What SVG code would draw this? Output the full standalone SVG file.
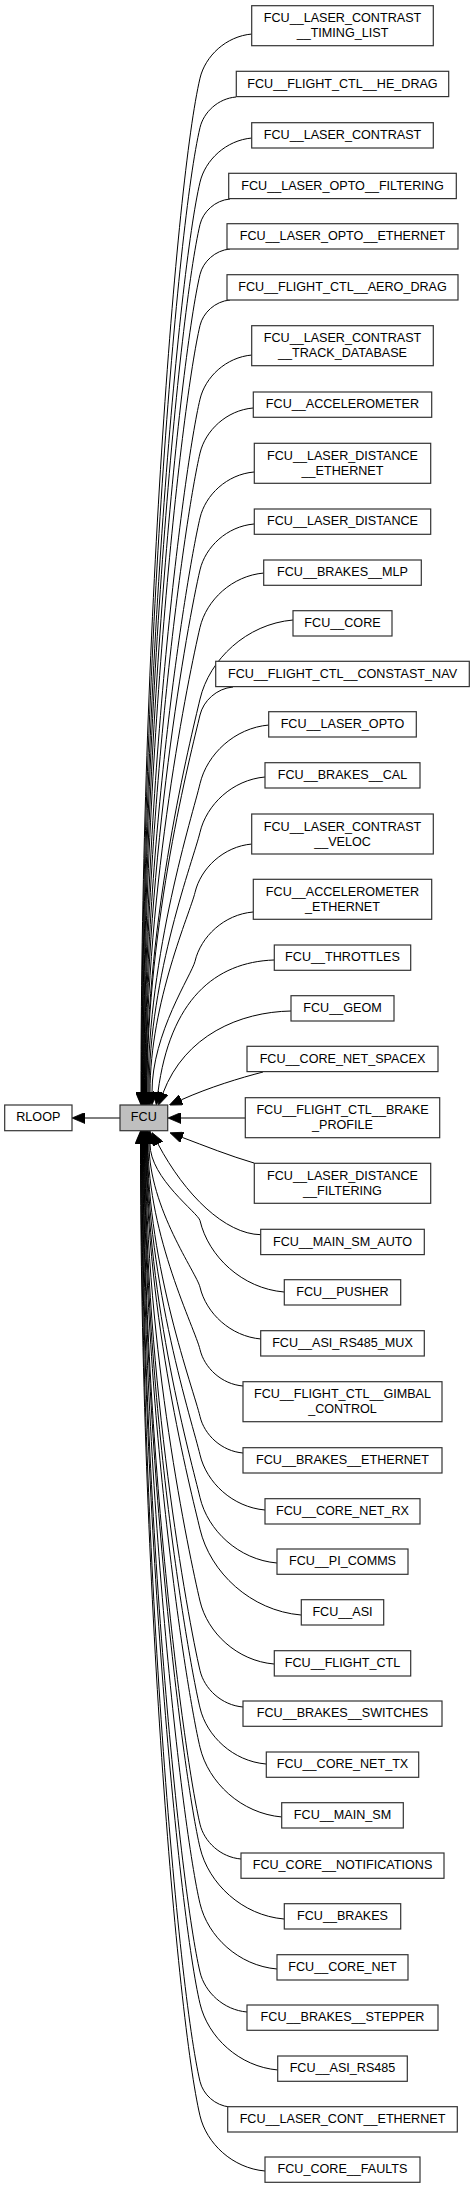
<svg xmlns="http://www.w3.org/2000/svg" width="475" height="2189" viewBox="0 0 475 2189">
<style>
.n rect{fill:#ffffff;stroke:#333333;stroke-width:1.2}
.f rect{fill:#bfbfbf;stroke:#333333;stroke-width:1.2}
text{font-family:"Liberation Sans",Arial,sans-serif;font-size:12.6px;text-anchor:middle;fill:#000}
.e path{fill:none;stroke:#000;stroke-width:1;marker-end:url(#ah)}
</style>
<defs>
<marker id="ah" markerWidth="13" markerHeight="11" refX="0" refY="5.5" orient="auto" markerUnits="userSpaceOnUse"><path d="M0,0 L13,5.5 L0,11 Z" fill="#000" stroke="#000" stroke-width="0.8"/></marker>
</defs>
<rect x="0" y="0" width="475" height="2189" fill="#ffffff"/>
<g id="edges" class="e">
<path d="M120,1118 L85,1118"/>
<path d="M245.3,1118 L181,1118"/>
<path d="M252,34 C226,36.2 205.2,56.1 200,78.2 C176.2,179.6 141,635.8 141,1092"/>
<path d="M236,97 C218,98.5 203.6,112.3 200,127.6 C177.3,224 141.5,658 141.5,1092"/>
<path d="M252,138 C226,140.2 205.2,160.1 200,182.2 C178.6,273.2 142,682.6 142,1092"/>
<path d="M230,199 C215,200.3 203,211.8 200,224.5 C179.6,311.3 142.5,701.6 142.5,1092"/>
<path d="M230,249 C215,250.3 203,261.8 200,274.5 C180.8,356.3 143,724.1 143,1092"/>
<path d="M230,300 C215,301.3 203,312.8 200,325.5 C182,402.2 143.5,747.1 143.5,1092"/>
<path d="M252,355 C226,357.2 205.2,377.1 200,399.2 C183.7,468.5 144,780.2 144,1092"/>
<path d="M253,408 C226.5,410.3 205.3,430.6 200,453.1 C185,517 144.5,804.5 144.5,1092"/>
<path d="M254,472 C227,474.3 205.4,494.9 200,517.9 C186.5,575.3 145,833.7 145,1092"/>
<path d="M254,524 C227,526.3 205.4,546.9 200,569.9 C187.7,622.1 145.5,857.1 145.5,1092"/>
<path d="M264,573 C232,575.7 206.4,600.2 200,627.4 C189.1,673.9 146,882.9 146,1092"/>
<path d="M293,620 C246.5,624 209.3,659.6 200,699.1 C190.8,738.4 146.5,915.2 146.5,1092"/>
<path d="M233,687 C216.5,688.4 203.3,701 200,715 C191.1,752.7 147,922.4 147,1092"/>
<path d="M269,725 C234.5,727.9 206.9,754.4 200,783.7 C192.8,814.5 148,953.3 148,1092"/>
<path d="M265,777 C232.5,779.8 206.5,804.7 200,832.3 C193.9,858.3 149,975.1 149,1092"/>
<path d="M252,844 C223.5,846.4 200.7,868.3 195,892.5 C190.3,912.5 150,1002.2 150,1092"/>
<path d="M253,912 C224,914.5 200.8,936.7 195,961.3 C191.9,974.4 152,1033.2 152,1092"/>
<path d="M274,960 C215,962 170,1000 158,1092"/>
<path d="M291,1011 C240,1012 185,1035 163,1093"/>
<path d="M263,1072 C240,1078 210,1087 181.3,1099.8"/>
<path d="M254,1163 C230,1156 205,1146 182.2,1137.4"/>
<path d="M260.7,1234.7 C225,1234 185,1195 158,1144"/>
<path d="M284,1292 C242,1288.4 208.4,1256.3 200,1220.6 C198.2,1212.9 150,1178.5 150,1144"/>
<path d="M261,1339 C230.5,1336.4 206.1,1313.1 200,1287.2 C196.6,1272.9 149,1208.4 149,1144"/>
<path d="M243,1386 C221.5,1384.2 204.3,1367.8 200,1349.5 C195.2,1329 148,1236.5 148,1144"/>
<path d="M243,1453 C221.5,1451.2 204.3,1434.8 200,1416.5 C193.6,1389.3 147.5,1266.6 147.5,1144"/>
<path d="M265,1510 C232.5,1507.2 206.5,1482.4 200,1454.8 C192.7,1423.7 147,1283.9 147,1144"/>
<path d="M277,1563 C238.5,1559.7 207.7,1530.3 200,1497.6 C191.7,1462.2 146.5,1303.1 146.5,1144"/>
<path d="M301,1615 C250.5,1610.7 210.1,1572.1 200,1529.2 C190.9,1490.7 146,1317.3 146,1144"/>
<path d="M274,1664 C237,1660.9 207.4,1632.6 200,1601.1 C189.3,1555.4 145.5,1349.7 145.5,1144"/>
<path d="M243,1707 C221.5,1705.2 204.3,1688.8 200,1670.5 C187.6,1617.9 145,1380.9 145,1144"/>
<path d="M266,1764 C233,1761.2 206.6,1736 200,1707.9 C186.7,1651.5 144.5,1397.8 144.5,1144"/>
<path d="M282,1817 C241,1813.5 208.2,1782.2 200,1747.3 C185.8,1687 144,1415.5 144,1144"/>
<path d="M241,1859 C220.5,1857.3 204.1,1841.6 200,1824.2 C184,1756.2 143.5,1450.1 143.5,1144"/>
<path d="M284,1919 C242,1915.4 208.4,1883.3 200,1847.6 C183.5,1777.2 143,1460.6 143,1144"/>
<path d="M277,1969 C238.5,1965.7 207.7,1936.3 200,1903.6 C182.1,1827.6 142.5,1485.8 142.5,1144"/>
<path d="M247,2012 C223.5,2010 204.7,1992.1 200,1972.1 C180.5,1889.3 142,1516.6 142,1144"/>
<path d="M278,2070 C239,2066.7 207.8,2036.9 200,2003.7 C179.8,1917.7 141.5,1530.9 141.5,1144"/>
<path d="M230,2107 C215,2105.7 203,2094.3 200,2081.5 C178,1987.8 141,1565.9 141,1144"/>
<path d="M265,2171 C232.5,2168.2 206.5,2143.4 200,2115.8 C177.2,2018.6 140.5,1581.3 140.5,1144"/>
</g>
<g id="RLOOP" class="n"><rect x="4.7" y="1105" width="67.3" height="25.7"/><text x="38.3" y="1121.3">RLOOP</text></g>
<g id="FCU" class="f"><rect x="120" y="1105" width="47.7" height="25.7"/><text x="143.8" y="1121.3">FCU</text></g>
<g id="FCU__LASER_CONTRAST__TIMING_LIST" class="n"><rect x="251.7" y="5.7" width="181.6" height="40"/><text x="342.5" y="22.2">FCU__LASER_CONTRAST</text><text x="342.5" y="37.2">__TIMING_LIST</text></g>
<g id="FCU__FLIGHT_CTL__HE_DRAG" class="n"><rect x="236.3" y="71.3" width="212.4" height="25.3"/><text x="342.5" y="87.6">FCU__FLIGHT_CTL__HE_DRAG</text></g>
<g id="FCU__LASER_CONTRAST" class="n"><rect x="251.7" y="122.7" width="181.6" height="25.3"/><text x="342.5" y="139">FCU__LASER_CONTRAST</text></g>
<g id="FCU__LASER_OPTO__FILTERING" class="n"><rect x="228.7" y="173.3" width="227.6" height="25.3"/><text x="342.5" y="189.6">FCU__LASER_OPTO__FILTERING</text></g>
<g id="FCU__LASER_OPTO__ETHERNET" class="n"><rect x="227" y="223.7" width="231" height="25.3"/><text x="342.5" y="240">FCU__LASER_OPTO__ETHERNET</text></g>
<g id="FCU__FLIGHT_CTL__AERO_DRAG" class="n"><rect x="227" y="274.7" width="231" height="25.3"/><text x="342.5" y="291">FCU__FLIGHT_CTL__AERO_DRAG</text></g>
<g id="FCU__LASER_CONTRAST__TRACK_DATABASE" class="n"><rect x="251.7" y="325.7" width="181.6" height="40"/><text x="342.5" y="342.2">FCU__LASER_CONTRAST</text><text x="342.5" y="357.2">__TRACK_DATABASE</text></g>
<g id="FCU__ACCELEROMETER" class="n"><rect x="253.3" y="392" width="178.4" height="25.3"/><text x="342.5" y="408.3">FCU__ACCELEROMETER</text></g>
<g id="FCU__LASER_DISTANCE__ETHERNET" class="n"><rect x="254.3" y="443.3" width="176.4" height="40"/><text x="342.5" y="459.8">FCU__LASER_DISTANCE</text><text x="342.5" y="474.8">__ETHERNET</text></g>
<g id="FCU__LASER_DISTANCE" class="n"><rect x="254.3" y="509" width="176.4" height="25.3"/><text x="342.5" y="525.3">FCU__LASER_DISTANCE</text></g>
<g id="FCU__BRAKES__MLP" class="n"><rect x="263.7" y="560" width="157.6" height="25.3"/><text x="342.5" y="576.3">FCU__BRAKES__MLP</text></g>
<g id="FCU__CORE" class="n"><rect x="293" y="610.7" width="99" height="25.3"/><text x="342.5" y="627">FCU__CORE</text></g>
<g id="FCU__FLIGHT_CTL__CONSTAST_NAV" class="n"><rect x="215.7" y="661.3" width="253.6" height="25.3"/><text x="342.5" y="677.6">FCU__FLIGHT_CTL__CONSTAST_NAV</text></g>
<g id="FCU__LASER_OPTO" class="n"><rect x="268.7" y="711.7" width="147.6" height="25.3"/><text x="342.5" y="728">FCU__LASER_OPTO</text></g>
<g id="FCU__BRAKES__CAL" class="n"><rect x="265" y="762.7" width="155" height="25.3"/><text x="342.5" y="779">FCU__BRAKES__CAL</text></g>
<g id="FCU__LASER_CONTRAST__VELOC" class="n"><rect x="251.7" y="814" width="181.6" height="40"/><text x="342.5" y="830.5">FCU__LASER_CONTRAST</text><text x="342.5" y="845.5">__VELOC</text></g>
<g id="FCU__ACCELEROMETER_ETHERNET" class="n"><rect x="253.3" y="879.3" width="178.4" height="40"/><text x="342.5" y="895.8">FCU__ACCELEROMETER</text><text x="342.5" y="910.8">_ETHERNET</text></g>
<g id="FCU__THROTTLES" class="n"><rect x="274.3" y="945" width="136.4" height="25.3"/><text x="342.5" y="961.3">FCU__THROTTLES</text></g>
<g id="FCU__GEOM" class="n"><rect x="291" y="995.7" width="103" height="25.3"/><text x="342.5" y="1012">FCU__GEOM</text></g>
<g id="FCU__CORE_NET_SPACEX" class="n"><rect x="247" y="1046.3" width="191" height="25.3"/><text x="342.5" y="1062.6">FCU__CORE_NET_SPACEX</text></g>
<g id="FCU__FLIGHT_CTL__BRAKE_PROFILE" class="n"><rect x="245.3" y="1097.7" width="194.4" height="40"/><text x="342.5" y="1114.2">FCU__FLIGHT_CTL__BRAKE</text><text x="342.5" y="1129.2">_PROFILE</text></g>
<g id="FCU__LASER_DISTANCE__FILTERING" class="n"><rect x="254.3" y="1163.3" width="176.4" height="40"/><text x="342.5" y="1179.8">FCU__LASER_DISTANCE</text><text x="342.5" y="1194.8">__FILTERING</text></g>
<g id="FCU__MAIN_SM_AUTO" class="n"><rect x="260.7" y="1229.3" width="163.6" height="25.3"/><text x="342.5" y="1245.6">FCU__MAIN_SM_AUTO</text></g>
<g id="FCU__PUSHER" class="n"><rect x="284.3" y="1279.7" width="116.4" height="25.3"/><text x="342.5" y="1296">FCU__PUSHER</text></g>
<g id="FCU__ASI_RS485_MUX" class="n"><rect x="260.7" y="1330.7" width="163.6" height="25.3"/><text x="342.5" y="1347">FCU__ASI_RS485_MUX</text></g>
<g id="FCU__FLIGHT_CTL__GIMBAL_CONTROL" class="n"><rect x="243" y="1381.7" width="199" height="40"/><text x="342.5" y="1398.2">FCU__FLIGHT_CTL__GIMBAL</text><text x="342.5" y="1413.2">_CONTROL</text></g>
<g id="FCU__BRAKES__ETHERNET" class="n"><rect x="243" y="1447.7" width="199" height="25.3"/><text x="342.5" y="1464">FCU__BRAKES__ETHERNET</text></g>
<g id="FCU__CORE_NET_RX" class="n"><rect x="265" y="1498.7" width="155" height="25.3"/><text x="342.5" y="1515">FCU__CORE_NET_RX</text></g>
<g id="FCU__PI_COMMS" class="n"><rect x="277" y="1549" width="131" height="25.3"/><text x="342.5" y="1565.3">FCU__PI_COMMS</text></g>
<g id="FCU__ASI" class="n"><rect x="301.3" y="1599.7" width="82.4" height="25.3"/><text x="342.5" y="1616">FCU__ASI</text></g>
<g id="FCU__FLIGHT_CTL" class="n"><rect x="274.3" y="1650.7" width="136.4" height="25.3"/><text x="342.5" y="1667">FCU__FLIGHT_CTL</text></g>
<g id="FCU__BRAKES__SWITCHES" class="n"><rect x="243" y="1701" width="199" height="25.3"/><text x="342.5" y="1717.3">FCU__BRAKES__SWITCHES</text></g>
<g id="FCU__CORE_NET_TX" class="n"><rect x="266.3" y="1752" width="152.4" height="25.3"/><text x="342.5" y="1768.3">FCU__CORE_NET_TX</text></g>
<g id="FCU__MAIN_SM" class="n"><rect x="281.7" y="1802.7" width="121.6" height="25.3"/><text x="342.5" y="1819">FCU__MAIN_SM</text></g>
<g id="FCU_CORE__NOTIFICATIONS" class="n"><rect x="241" y="1853" width="203" height="25.3"/><text x="342.5" y="1869.3">FCU_CORE__NOTIFICATIONS</text></g>
<g id="FCU__BRAKES" class="n"><rect x="284.3" y="1903.7" width="116.4" height="25.3"/><text x="342.5" y="1920">FCU__BRAKES</text></g>
<g id="FCU__CORE_NET" class="n"><rect x="277" y="1954.7" width="131" height="25.3"/><text x="342.5" y="1971">FCU__CORE_NET</text></g>
<g id="FCU__BRAKES__STEPPER" class="n"><rect x="247" y="2005" width="191" height="25.3"/><text x="342.5" y="2021.3">FCU__BRAKES__STEPPER</text></g>
<g id="FCU__ASI_RS485" class="n"><rect x="277.7" y="2056" width="129.6" height="25.3"/><text x="342.5" y="2072.3">FCU__ASI_RS485</text></g>
<g id="FCU__LASER_CONT__ETHERNET" class="n"><rect x="227.7" y="2106.7" width="229.6" height="25.3"/><text x="342.5" y="2123">FCU__LASER_CONT__ETHERNET</text></g>
<g id="FCU_CORE__FAULTS" class="n"><rect x="265" y="2157" width="155" height="25.3"/><text x="342.5" y="2173.3">FCU_CORE__FAULTS</text></g>
</svg>
